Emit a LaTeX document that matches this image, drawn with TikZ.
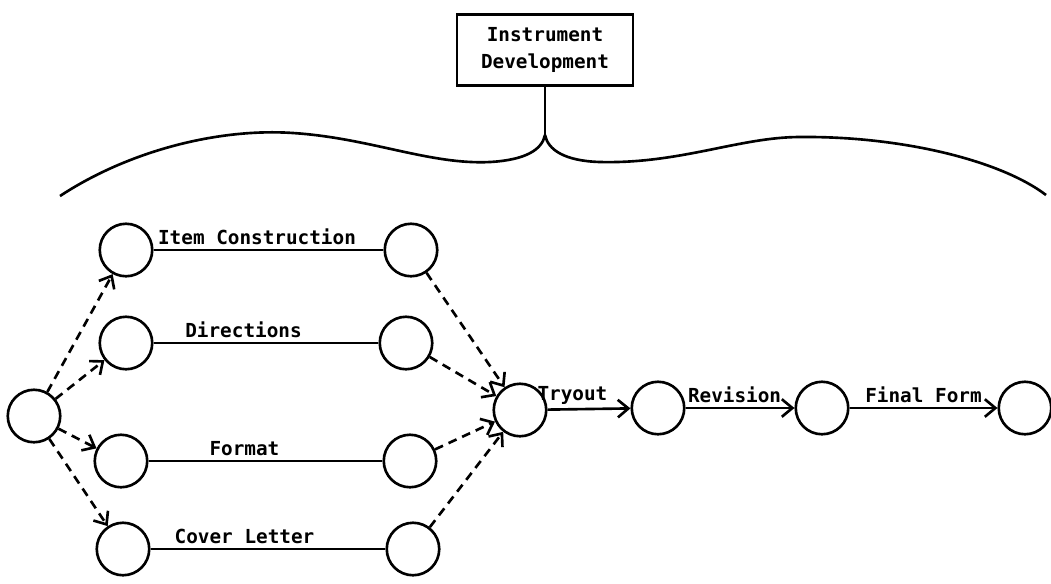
\documentclass[tikz,border=0pt]{standalone}
\usepackage{fontspec}
\setmonofont{DejaVu Sans Mono}
\usetikzlibrary{arrows.meta}

\begin{document}
\begin{tikzpicture}[x=0.02cm,y=-0.02cm,line width=1.5pt,
  font=\ttfamily\bfseries\fontsize{11}{15.5}\selectfont,
  event/.style={draw,circle,minimum size=1.05cm,inner sep=0pt},
  dep/.style={dash pattern=on 5pt off 3.5pt,-{Straight Barb[length=6pt,width=10pt]}},
  act/.style={-{Straight Barb[length=6pt,width=10pt]}},
  lbl/.style={above=1pt,inner sep=1pt}]
\useasboundingbox (0,0) rectangle (1051,583);

\node[draw,minimum width=3.52cm,minimum height=1.42cm,align=center] (dev) at (545,50) {Instrument\\Development};
\coordinate (cusp) at (545,135);
\draw (dev.south) -- (cusp);
\draw (60,196) .. controls (130,150) and (220,128) .. (293,133) .. controls (370,138) and (430,165) .. (490,162) .. controls (525,160) and (542,150) .. (cusp);
\draw (cusp) .. controls (548,150) and (565,161) .. (600,162) .. controls (680,164) and (740,137) .. (800,137) .. controls (900,136) and (1000,160) .. (1046,195);

\node[event] (start) at (34,416) {};
\node[event] (itema) at (126,250) {};
\node[event] (itemb) at (411,250) {};
\node[event] (dira) at (126,343) {};
\node[event] (dirb) at (406,343) {};
\node[event] (forma) at (121,461) {};
\node[event] (formb) at (410,461) {};
\node[event] (covera) at (123,549) {};
\node[event] (coverb) at (413,549) {};
\node[event] (ready) at (520,410) {};
\node[event] (tried) at (658,408) {};
\node[event] (revised) at (822,408) {};
\node[event] (final) at (1025,408) {};

\draw (itema) -- node[lbl,pos=0.45] {Item Construction} (itemb);
\draw (dira) -- node[lbl,pos=0.4] {Directions} (dirb);
\draw (forma) -- node[lbl,pos=0.41] {Format} (formb);
\draw (covera) -- node[lbl,pos=0.4] {Cover Letter} (coverb);

\draw[dep] (start) -- (itema);
\draw[dep] (start) -- (dira);
\draw[dep] (start) -- (forma);
\draw[dep] (start) -- (covera);
\draw[dep] (itemb) -- (ready);
\draw[dep] (dirb) -- (ready);
\draw[dep] (formb) -- (ready);
\draw[dep] (coverb) -- (ready);

\draw[act] (ready) -- node[lbl,pos=0.3] {Tryout} (tried);
\draw[act] (tried) -- node[lbl,pos=0.45] {Revision} (revised);
\draw[act] (revised) -- node[lbl,pos=0.5] {Final Form} (final);
\end{tikzpicture}
\end{document}
